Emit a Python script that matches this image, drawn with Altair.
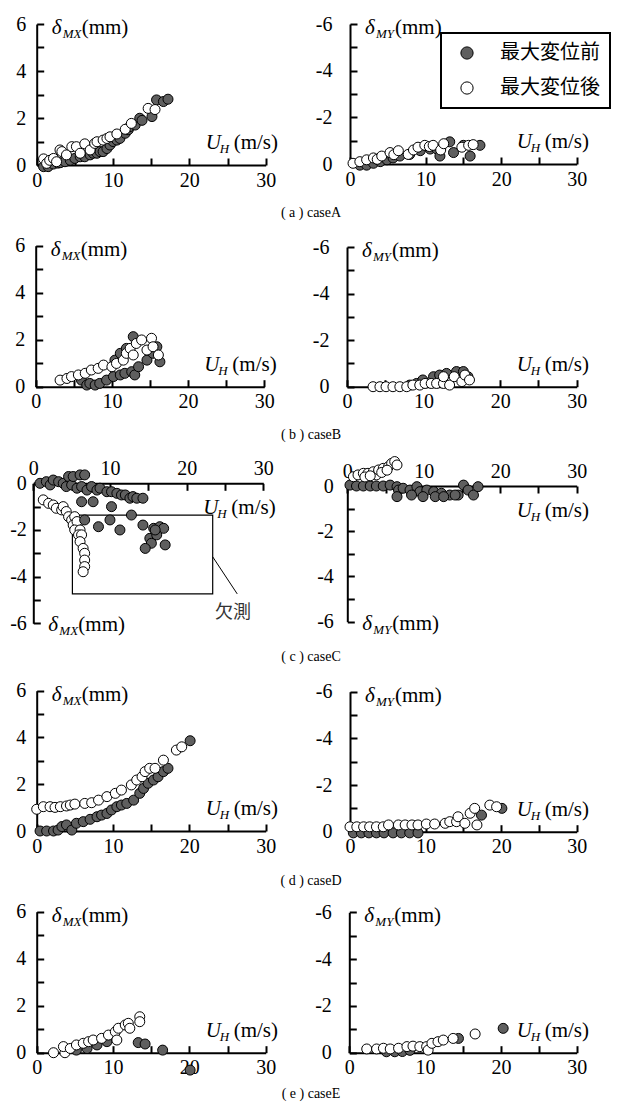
import altair as alt
import pandas as pd

# ------------------------------------------------------------------
# Data: U_H (m/s) and displacement (mm)
# PRE = 最大変位前 (grey), POST = 最大変位後 (white)
# ------------------------------------------------------------------
# case A
A_MX_PRE_U = [0.9, 1.5, 2.2, 2.8, 3.1, 3.7, 4.4, 5.0, 5.7, 6.3, 7.0, 7.4, 7.9, 8.3, 8.7, 9.2, 9.6, 10.0, 10.5, 10.9, 11.6, 12.0, 12.2, 12.9, 13.5, 13.8, 15.1, 15.7, 16.6, 17.2]
A_MX_PRE_D = [-0.07, -0.07, 0.04, 0.08, 0.1, 0.14, 0.2, 0.28, 0.35, 0.35, 0.43, 0.5, 0.5, 0.57, 0.57, 0.7, 0.85, 1.0, 1.06, 1.13, 1.35, 1.5, 1.63, 1.7, 1.99, 1.9, 2.06, 2.77, 2.7, 2.8]
A_MX_POST_U = [0.9, 1.3, 1.7, 2.2, 2.6, 3.05, 3.3, 3.9, 4.6, 5.2, 5.7, 6.3, 7.0, 7.6, 7.9, 8.7, 9.2, 9.6, 10.5, 11.6, 12.4, 14.6, 15.5]
A_MX_POST_D = [0.26, 0.07, 0.2, 0.28, 0.14, 0.64, 0.57, 0.43, 0.78, 0.78, 0.5, 0.9, 0.64, 0.92, 0.99, 1.06, 1.13, 1.2, 1.32, 1.52, 1.77, 2.41, 2.36]
A_MY_PRE_U = [1.3, 2.2, 3.1, 4.0, 4.9, 5.7, 6.6, 7.9, 9.3, 10.6, 11.5, 11.9, 13.2, 13.7, 15.0, 15.9, 17.2]
A_MY_PRE_D = [0.05, 0.05, -0.03, -0.1, -0.18, -0.26, -0.34, -0.41, -0.57, -0.64, -0.64, -0.34, -0.95, -0.49, -0.8, -0.34, -0.8]
A_MY_POST_U = [0.4, 1.3, 2.2, 3.1, 3.6, 4.2, 5.3, 5.8, 6.4, 7.7, 8.4, 9.0, 9.9, 10.5, 11.0, 12.0, 12.4, 14.8, 15.7, 16.3]
A_MY_POST_D = [-0.03, -0.1, -0.18, -0.26, -0.2, -0.34, -0.49, -0.4, -0.57, -0.41, -0.6, -0.72, -0.8, -0.75, -0.8, -0.6, -0.87, -0.72, -0.8, -0.83]
# case B
B_MX_PRE_U = [6.0, 6.7, 7.1, 7.8, 8.4, 9.3, 10.2, 10.4, 11.1, 11.1, 11.7, 11.9, 12.6, 12.8, 13.0, 13.5, 14.6, 15.4, 15.9, 16.3]
B_MX_PRE_D = [0.28, 0.07, 0.14, 0.07, 0.14, 0.28, 0.43, 1.13, 0.5, 1.42, 0.57, 1.63, 0.64, 2.13, 0.5, 0.85, 1.13, 1.42, 1.7, 1.06]
B_MX_POST_U = [3.2, 4.1, 4.7, 5.6, 6.5, 7.3, 8.2, 8.9, 10.0, 10.6, 11.5, 11.9, 12.4, 12.8, 13.2, 13.9, 14.6, 15.2, 15.4, 16.1]
B_MX_POST_D = [0.28, 0.35, 0.43, 0.5, 0.57, 0.71, 0.78, 0.92, 0.85, 0.99, 1.13, 1.42, 1.63, 1.35, 1.84, 1.99, 1.56, 2.06, 1.7, 1.35]
B_MY_PRE_U = [8.2, 9.1, 9.9, 11.3, 12.1, 13.0, 14.3, 15.2, 15.8]
B_MY_PRE_D = [-0.07, -0.14, -0.29, -0.43, -0.5, -0.57, -0.65, -0.65, -0.43]
B_MY_POST_U = [3.4, 4.3, 5.1, 6.0, 6.9, 7.8, 8.6, 9.5, 10.2, 11.0, 11.7, 12.6, 13.4, 12.6, 14.0, 15.0, 15.4, 16.0]
B_MY_POST_D = [0, 0, 0, 0, 0, 0, -0.07, -0.07, -0.14, -0.14, -0.14, -0.14, -0.07, -0.43, -0.43, -0.22, -0.5, -0.29]
# case C
C_MX_PRE_U = [0.87, 1.7, 2.2, 2.6, 3.3, 3.9, 4.3, 4.6, 5.0, 5.2, 5.7, 6.1, 6.3, 6.7, 7.0, 7.6, 8.3, 8.7, 9.6, 10.2, 10.9, 11.5, 12.0, 12.6, 13.0, 13.5, 14.3,
              6.3, 7.8, 10.2, 6.7, 8.5, 10.0, 11.3, 12.8, 14.3, 15.7, 16.5, 17.0, 15.2, 15.4, 14.6, 17.2, 16.1, 15.9]
C_MX_PRE_D = [0, 0.07, -0.07, 0.14, 0.07, 0, -0.14, 0.29, -0.07, 0.29, -0.21, 0.36, -0.14, 0.36, -0.29, -0.14, -0.29, -0.21, -0.36, -0.36, -0.43, -0.5, -0.5, -0.64, -0.57, -0.64, -0.64,
              -0.79, -0.79, -1.0, -1.57, -1.86, -1.57, -2.0, -1.36, -1.79, -1.93, -1.86, -1.93, -2.36, -2.57, -2.79, -2.64, -2.21, -2.0]
C_MX_POST_U = [1.3, 2.0, 2.6, 3.0, 3.7, 3.9, 4.3, 4.6, 5.0, 5.4, 5.2, 5.7, 5.4, 6.1, 5.9, 6.3, 6.1, 6.5, 6.7, 6.7, 6.7, 6.5]
C_MX_POST_D = [-0.71, -0.86, -0.93, -1.07, -1.14, -1.0, -1.21, -1.43, -1.57, -1.43, -1.79, -1.64, -2.0, -2.0, -2.21, -2.21, -2.5, -2.79, -3.0, -3.29, -3.57, -3.79]
C_MY_PRE_U = [0.35, 1.2, 2.1, 3.0, 3.8, 4.7, 5.6, 6.5, 6.7, 7.3, 8.2, 9.1, 9.5, 10.4, 11.3, 12.3, 13.4, 14.5, 15.2, 15.8, 16.5, 17.1, 6.5, 8.4, 9.9, 11.5, 12.6, 14.1]
C_MY_PRE_D = [0.04, 0, 0, 0, 0, 0, 0.04, -0.03, -0.18, -0.1, -0.18, -0.03, -0.25, -0.18, -0.25, -0.32, -0.4, -0.4, 0.04, -0.18, -0.4, -0.03, -0.47, -0.4, -0.47, -0.47, -0.47, -0.4]
C_MY_POST_U = [0.8, 1.4, 2.1, 2.7, 3.4, 3.8, 4.1, 4.7, 5.4, 5.8, 6.2, 6.5, 2.3, 3.0, 4.5, 5.2]
C_MY_POST_D = [0.41, 0.49, 0.56, 0.56, 0.63, 0.49, 0.71, 0.78, 0.86, 1.0, 1.08, 0.93, 0.4, 0.45, 0.6, 0.7]
# case D
D_MX_PRE_U = [0.44, 1.3, 2.2, 2.8, 3.3, 3.9, 4.6, 5.2, 6.1, 7.0, 7.9, 8.5, 9.2, 9.8, 10.5, 11.1, 11.8, 12.7, 13.5, 14.0, 14.6, 15.3, 15.9, 16.6, 17.2, 20.1]
D_MX_PRE_D = [0, 0, 0, 0.04, 0.19, 0.26, 0.04, 0.33, 0.4, 0.5, 0.61, 0.68, 0.75, 0.9, 1.04, 1.11, 1.18, 1.32, 1.61, 1.82, 2.04, 2.18, 2.32, 2.54, 2.68, 3.86]
D_MX_POST_U = [0, 0.87, 1.75, 2.4, 3.1, 3.9, 4.4, 5.0, 6.3, 7.2, 8.1, 9.2, 10.3, 11.1, 12.4, 13.1, 13.8, 14.2, 14.8, 15.5, 16.6, 18.3, 19.0]
D_MX_POST_D = [0.93, 1.04, 1.04, 1.01, 1.04, 1.07, 1.11, 1.15, 1.18, 1.21, 1.32, 1.47, 1.61, 1.75, 1.97, 2.18, 2.32, 2.54, 2.68, 2.68, 3.03, 3.46, 3.6]
D_MY_PRE_U = [0.44, 1.5, 2.5, 3.5, 4.5, 5.7, 6.8, 7.9, 9.0, 17.4, 20.1]
D_MY_PRE_D = [0.05, 0.05, 0.05, 0.05, 0.05, 0.05, 0.05, 0.05, 0.05, -0.71, -1.0]
D_MY_POST_U = [0, 0.9, 1.8, 2.6, 3.5, 4.4, 5.1, 6.4, 7.3, 8.2, 9.0, 10.1, 11.2, 12.6, 13.2, 14.1, 14.3, 15.2, 15.9, 16.8, 16.5, 18.5, 19.4]
D_MY_POST_D = [-0.21, -0.21, -0.21, -0.21, -0.21, -0.21, -0.29, -0.29, -0.29, -0.29, -0.29, -0.33, -0.33, -0.36, -0.43, -0.43, -0.64, -0.36, -0.79, -0.29, -1.0, -1.14, -1.07]
# case E
E_MX_PRE_U = [5.2, 6.6, 7.9, 9.2, 13.3, 14.2, 16.5, 20.1]
E_MX_PRE_D = [0.11, 0.18, 0.33, 0.47, 0.43, 0.37, 0.11, -0.74]
E_MX_POST_U = [2.2, 3.7, 3.5, 4.4, 5.2, 6.1, 6.8, 7.4, 8.5, 9.4, 10.3, 10.5, 10.7, 11.6, 12.0, 12.2, 13.5, 13.5]
E_MX_POST_D = [0, 0, 0.26, 0.18, 0.33, 0.4, 0.47, 0.54, 0.61, 0.75, 0.89, 0.54, 1.04, 1.18, 1.25, 1.04, 1.53, 1.32]
E_MY_PRE_U = [4.9, 6.0, 7.0, 8.0, 14.4, 20.3]
E_MY_PRE_D = [-0.04, -0.04, -0.05, -0.1, -0.61, -1.04]
E_MY_POST_U = [2.3, 3.6, 4.5, 5.4, 6.5, 7.6, 8.4, 9.3, 10.2, 10.4, 10.9, 11.7, 12.4, 13.7, 16.6]
E_MY_POST_D = [-0.16, -0.16, -0.19, -0.16, -0.19, -0.26, -0.28, -0.26, -0.26, -0.11, -0.4, -0.47, -0.54, -0.61, -0.8]

# missing-data box and its leader (caseC, δMX)
MISSING_BOX_U = [5.1, 23.4]
MISSING_BOX_D = [-1.36, -4.74]
LEADER_U = [23.4, 26.6]
LEADER_D = [-3.15, -4.74]
MISSING_LABEL = "欠測"

KINDS = ["最大変位前", "最大変位後"]
CAPTIONS = ["( a ) caseA", "( b ) caseB", "( c ) caseC", "( d ) caseD", "( e ) caseE"]
X_LABELS = [0, 10, 20, 30]
X_TICKS = [0, 5, 10, 15, 20, 25, 30]

# ------------------------------------------------------------------
SERIF = "Liberation Serif, Times New Roman, serif"
CJK = "Noto Sans CJK JP"
GREY = "#5f5f5f"
ONE = pd.DataFrame({"k": [0]})

fill_scale = alt.Scale(domain=KINDS, range=[GREY, "white"])
legend = alt.Legend(
    title=None, orient="none", legendX=433, legendY=25,
    symbolType="circle", symbolSize=150, symbolStrokeColor="black",
    symbolStrokeWidth=1, symbolOffset=6, symbolOpacity=1,
    labelFont=CJK, labelFontSize=20, labelColor="black", labelOffset=23,
    rowPadding=15, padding=10, strokeColor="black",
)


def make_df(pre_u, pre_d, post_u, post_d, pre_on_top=False):
    pre = pd.DataFrame({"u": pre_u, "d": pre_d, "kind": KINDS[0]})
    post = pd.DataFrame({"u": post_u, "d": post_d, "kind": KINDS[1]})
    df = pd.concat([post, pre] if pre_on_top else [pre, post], ignore_index=True)
    df["seq"] = range(len(df))
    return df


def txt(text, xv, yv, dx, dy, size, italic=False, font=SERIF, align="left", color="black"):
    return alt.Chart(ONE).mark_text(
        text=text, dx=dx, dy=dy, fontSize=size, font=font, align=align,
        baseline="alphabetic", color=color,
        fontStyle="italic" if italic else "normal",
    ).encode(x=alt.XDatum(xv, axis=None), y=alt.YDatum(yv, axis=None))


AX = dict(grid=False, title=None, labelFont=SERIF, labelFontSize=20, labelColor="black",
          labelFlush=False, labelOverlap=False, domainColor="black", domainWidth=2)
TK = dict(grid=False, title=None, labels=False, domain=False, tickSize=7, tickWidth=2,
          tickColor="black")


def panel(df, comp, W, H, xr, ydom, yr, caption=None, cap_y=0, x_top=False,
          ylab_pad=11, extra=()):
    L, R = xr
    y0 = yr[1] if x_top else yr[0]
    xs = alt.Scale(domain=[0, 30], range=list(xr), nice=False, zero=False)
    ys = alt.Scale(domain=ydom, range=list(yr), nice=False, zero=False)
    sign = -1 if min(ydom) < 0 else 1
    ylabs = [sign * v for v in [0, 2, 4, 6]]
    yticks = [sign * v for v in range(7)]

    x_lab = alt.Axis(orient="top" if x_top else "bottom",
                     offset=-y0 if x_top else -(H - y0),
                     values=X_LABELS, ticks=False, tickSize=0, labelPadding=5, **AX)
    y_lab = alt.Axis(orient="left", offset=-L, values=ylabs, ticks=False, tickSize=0,
                     labelPadding=ylab_pad, labelExpr="datum.value + ''", **AX)
    x_tk = alt.Axis(orient="bottom" if x_top else "top",
                    offset=-(H - y0) if x_top else -y0, values=X_TICKS, **TK)
    y_tk = alt.Axis(orient="right", offset=-(W - L), values=yticks, **TK)

    pts = alt.Chart(df).mark_point(
        shape="circle", filled=True, size=100, stroke="black", strokeWidth=1, opacity=1
    ).encode(
        x=alt.X("u:Q", scale=xs, axis=x_lab),
        y=alt.Y("d:Q", scale=ys, axis=y_lab),
        fill=alt.Fill("kind:N", scale=fill_scale, legend=legend),
        order=alt.Order("seq:Q"),
    )
    ticks = alt.Chart(df).mark_point(size=0, opacity=0).encode(
        x=alt.X("u:Q", axis=x_tk), y=alt.Y("d:Q", axis=y_tk)
    )

    if x_top:
        ty, tdy = -6, 8
        uy, udy = 0, 31
    else:
        ty, tdy = (6 if sign > 0 else -6), 10
        uy, udy = 0, -16
    labels = [
        txt("δ", 0, ty, 15, tdy, 21, italic=True),
        txt(comp, 0, ty, 26, tdy + 4, 13, italic=True),
        txt("(mm)", 0, ty, 45, tdy, 21),
        txt("U", 30, uy, -60, udy, 21, italic=True),
        txt("H", 30, uy, -46, udy + 4, 13, italic=True),
        txt("(m/s)", 30, uy, -32, udy, 21),
    ]
    layers = list(extra) + [pts, ticks] + labels
    if caption:
        layers.append(
            alt.Chart(ONE).mark_text(text=caption, font=SERIF, fontSize=14, color="black",
                                     align="center", baseline="middle")
            .encode(x=alt.value(303), y=alt.value(cap_y))
        )
    return alt.layer(*layers).resolve_axis(x="independent", y="independent").properties(
        width=W, height=H)


# extras for caseC δMX
box = alt.Chart(ONE).mark_rect(fill="white", fillOpacity=0, stroke="black", strokeWidth=1.2).encode(
    x=alt.XDatum(MISSING_BOX_U[0], axis=None), x2=alt.X2Datum(MISSING_BOX_U[1]),
    y=alt.YDatum(MISSING_BOX_D[0], axis=None), y2=alt.Y2Datum(MISSING_BOX_D[1]))
leader = alt.Chart(ONE).mark_rule(color="black", strokeWidth=1).encode(
    x=alt.XDatum(LEADER_U[0], axis=None), x2=alt.X2Datum(LEADER_U[1]),
    y=alt.YDatum(LEADER_D[0], axis=None), y2=alt.Y2Datum(LEADER_D[1]))
miss_lab = alt.Chart(ONE).mark_text(text=MISSING_LABEL, font=CJK, fontSize=18, color="#333",
                                    align="center", baseline="middle").encode(
    x=alt.XDatum(26.05, axis=None), y=alt.YDatum(-5.56, axis=None))

WL, WR = 292, 313
panels = [
    panel(make_df(A_MX_PRE_U, A_MX_PRE_D, A_MX_POST_U, A_MX_POST_D), "MX", WL, 214,
          (28.7, 257.7), [0, 6], [157, 16], caption=CAPTIONS[0], cap_y=205),
    panel(make_df(A_MY_PRE_U, A_MY_PRE_D, A_MY_POST_U, A_MY_POST_D), "MY", WR, 214,
          (50, 276.7), [0, -6], [156, 16], ylab_pad=18),
    panel(make_df(B_MX_PRE_U, B_MX_PRE_D, B_MX_POST_U, B_MX_POST_D), "MX", WL, 223,
          (27.7, 256.3), [0, 6], [164.7, 23.7], caption=CAPTIONS[1], cap_y=213),
    panel(make_df(B_MY_PRE_U, B_MY_PRE_D, B_MY_POST_U, B_MY_POST_D), "MY", WR, 223,
          (47, 276.7), [0, -6], [164.7, 25], ylab_pad=18),
    panel(make_df(C_MX_PRE_U, C_MX_PRE_D, C_MX_POST_U, C_MX_POST_D, pre_on_top=True), "MX", WL, 225,
          (25.3, 255.3), [-6, 0], [178.3, 38.3], caption=CAPTIONS[2], cap_y=212,
          x_top=True, ylab_pad=7, extra=(box, leader, miss_lab)),
    panel(make_df(C_MY_PRE_U, C_MY_PRE_D, C_MY_POST_U, C_MY_POST_D), "MY", WR, 225,
          (47.3, 276.7), [-6, 0], [176.7, 41], x_top=True, ylab_pad=14),
    panel(make_df(D_MX_PRE_U, D_MX_PRE_D, D_MX_POST_U, D_MX_POST_D), "MX", WL, 220,
          (28.7, 257.7), [0, 6], [161, 20.7], caption=CAPTIONS[3], cap_y=211),
    panel(make_df(D_MY_PRE_U, D_MY_PRE_D, D_MY_POST_U, D_MY_POST_D), "MY", WR, 220,
          (50, 276.7), [0, -6], [161.7, 21.7], ylab_pad=18),
    panel(make_df(E_MX_PRE_U, E_MX_PRE_D, E_MX_POST_U, E_MX_POST_D), "MX", WL, 212,
          (28.7, 257.7), [0, 6], [162.7, 21.7], caption=CAPTIONS[4], cap_y=204),
    panel(make_df(E_MY_PRE_U, E_MY_PRE_D, E_MY_POST_U, E_MY_POST_D), "MY", WR, 212,
          (49.3, 276.7), [0, -6], [162.7, 22.3], ylab_pad=18),
]

chart = alt.concat(*panels, columns=2, spacing=0, bounds="flush", align="each").properties(
    padding=0
).configure_view(stroke=None).configure_legend(strokeWidth=2)

chart.save("out.html", embed_options={"renderer": "svg", "actions": False})
